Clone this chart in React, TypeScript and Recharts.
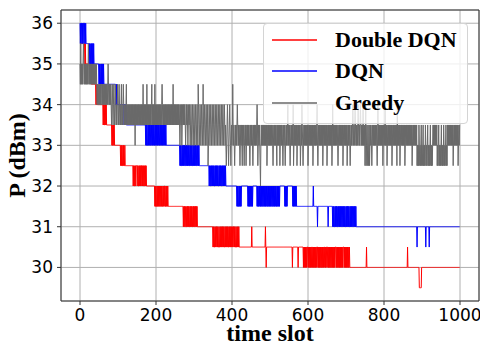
import React from 'react';
import { LineChart, Line, XAxis, YAxis, CartesianGrid, ReferenceArea } from 'recharts';

// power levels used by the three policies, one letter per level
const levelCodes = 'ABCDEFGHIJKLMN';
const levels = [29.5, 30, 30.5, 31, 31.5, 32, 32.5, 33, 33.5, 34, 34.5, 35, 35.5, 36];

const xTicks = [0, 200, 400, 600, 800, 1000];
const yTicks = [30, 31, 32, 33, 34, 35, 36];

const seriesKeys = ['ddqn', 'dqn', 'greedy'];
const seriesNames = ['Double DQN', 'DQN', 'Greedy'];
const seriesColors = ['#ff0000', '#0000ff', '#696969'];

// one slot per letter; "X12" means level X held for 12 slots
const doubleDqnRuns =
  'M13 LMLL L13 KLK K9 JKJKJ J14 IJIJIIJIJI I12 IHIHHIHIH H15 GHGHGGHGHGGHGG G19 ' +
  'FGFGFFGFG G3 FGFFGFGFGF G2 FGFGFFGFGFGF F21 ' +
  'EFEFE EFEFE FEFEE FEFEF EEFEF FEFEE FEFEF E40 ' +
  'DEDED DEDDE DEDED EDDED EDEDD EDEDE DDEDE DE D41 ' +
  'CDCDC CDCDD CDCDC CDCCD CDCDC DCDCD CCDCD CDCDC DCCDC DCDCD CDCDD CDCDC CDCCD CDCDC C ' +
  'C31 D C35 DCB C68 B C14 B C13 ' +
  'BCBCB CBCBC CCBCB BCBCB CBCCB CBCBC BCBCB CCCBC BCBCB CBBCB CBCBC CBCBC ' +
  'BCCCB CBCBC BCBBC BCBCB CBCBC CCBCB CBCBC BCBCB CBCBC CCBCB CBCBC BCBCB BCB ' +
  'B43 C B107 C B30 A6 B101';

const dqnRuns =
  'NMNMN NMNMN NMNNM N M8 LMLML LMLML MLMLL L11 KLKLK KLKLK LKLK K30 JKJK J18 IJIJIJI I50 ' +
  'HIHIH HIHIH IHIHH IHIHI HIHHI HIHIH IHIHI HHIHI HIHIH IHIHI HIHIH H35 ' +
  'GHGHG GHGHG HGHGG HGHGH GHGHG GHGHG HGHGG HGHGH GHGHG GHGHG HGG G24 ' +
  'FGFGF FGFGF GFGFF GFGFG FGFGF FGFGF GFGFF GFGFG FGFGF F F27 ' +
  'EFEFE EFEFE FEF F16 EFEFE FEFEF EFE F11 ' +
  'EFEFE EFEFE FEFEF EEFEF EFEFE FEEFE FEFEF EFEFE EFEFE FEFEF EEFEF EFEFE ' +
  'F13 EFEFEFEF F13 EFEFEFEFEFE E43 F E10 D E27 D E11 ' +
  'DEDED DEDED EDEDD EDEDE DEDED DEDED EDEDD EDEDE DEDED DEDED EDEDD EDEDE DED ' +
  'D159 C D22 C D8 C D80';

const greedyRuns = [
  'LKMKLKLKLM LKLKLKLKLK LKMLKLKLKL KLKLKLKLKL KLKLKJKJKJ',
  'KJKJKJKKJK JKJKJKJKJK JKJKLKJKJK JKJIJKJIJK JIJKJIJIJK',
  'JIJKJIJIJK IJIJKJIJIJ IJKIJIJIJI JIJIJIJIJI JIJIJHJIJI',
  'JIJIJIJIJI JIJIJIKIJI JIJIJIKIJI JIJIJIJIJK IJIJIJIKIJ',
  'IJIJIJIJIJ IJIJIJKJIJ IJIJIJIJIJ IJIJIJIJIJ IJIJIKIJIJ',
  'IJIJIJIJIJ IJIHIJIJHI JIJIJIJIHI JIJIHIJIJI HIJIHIJIHI',
  'JIHIJIHIJI HKJIHIJIHI JIHIKIHIJI HIJIHIJGHI JIHIJIHIJI',
  'HIJIHIJIHI JIHIJIHIJI HIJIHIJIHI JIHIHGHIJI HGHIJIHGHI',
  'HIKIHIHGHI HIHIJIHIHI HGHIHIHGIH IHGHIHIGHI HIHIHIHGHI',
  'HIHIHGHIHI HIHIHIJIGH IHIHGFHIHI HIHIHIHIHI HIGHIHIHIH',
  'IHIHIHIHGH IHIHIHIHGI HIHIHIGHIH IHIHGHIHIH GHIHIHIJHI',
  'HIHGHIHIHI HJGHIHIHIH IGHIHIHIHI GHIHJIHGHI HIHIHIHIHI',
  'GHIHIHIHIH IHIGHIHIHI HIHIJHGHIH IHIHIHIHIG HIHIHIHIHI',
  'GHIHIHIHIH IHIGHJHIHI HIHIHIHIHG HIHIHIHIHI HIGHIHIHIH',
  'IHIGHIHIHI HGHIHIHIJI HIHIJIHIHI HIJIHIHIJI HIHIHJHIHI',
  'GHJGHIGHIG HIGHIHIHGH IHIHIHIHIH IHGHJHIHIH IHIHIHIGHI',
  'HIHJHIHIGH IHIHIHIHIH IGHIHIHIHI HIHIGJHIHI HIGHIHIHIH',
  'IHIHIGHIHI HIHIHIHIHI HIHIGHIHIH IHIHIHIGHG HGIHGHGHIG',
  'HGHIGHGHGI HGHGHIGHGH GHIGHGHGHI HIHIHIHIHI GHGHIGHGHG',
  'HIGHGHGIHG HGHIGHGIHI HIHIHIHIHI HIGHIHIHIH IHIHIGHIHI',
].join(' ');

function decode(runs: string): number[] {
  const out: number[] = [];
  for (const tok of runs.trim().split(/\s+/)) {
    const m = tok.match(/^([A-N])(\d+)$/);
    if (m) {
      const v = levels[levelCodes.indexOf(m[1])];
      for (let i = 0; i < Number(m[2]); i++) out.push(v);
    } else {
      for (const ch of tok) out.push(levels[levelCodes.indexOf(ch)]);
    }
  }
  return out;
}

const ddqn = decode(doubleDqnRuns);
const dqn = decode(dqnRuns);
const greedy = decode(greedyRuns);

const data = greedy.map((g, t) => ({ t, ddqn: ddqn[t], dqn: dqn[t], greedy: g }));

const serif = '"Liberation Serif", "Times New Roman", serif';
const tickStyle = { fill: '#000', fontSize: 17, fontFamily: 'DejaVu Sans' };
const labelStyle = { fill: '#000', fontSize: 24, fontWeight: 'bold', fontFamily: serif };

function LegendBox() {
  return (
    <div
      style={{
        position: 'absolute',
        left: 263,
        top: 23,
        zIndex: 10,
        width: 205,
        height: 101,
        boxSizing: 'border-box',
        border: '1px solid #d4d4d4',
        borderRadius: 4,
        background: 'rgba(255,255,255,0.8)',
      }}
    >
      {seriesNames.map((name, i) => (
        <div key={name} style={{ display: 'flex', alignItems: 'center', height: 31.5 }}>
          <svg width={45} height={4} style={{ marginLeft: 8, display: 'block' }}>
            <line x1={0} x2={45} y1={2} y2={2} stroke={seriesColors[i]} strokeWidth={1.5} />
          </svg>
          <span
            style={{
              marginLeft: 18,
              fontFamily: serif,
              fontWeight: 'bold',
              fontSize: 22,
              lineHeight: 1,
              color: '#000',
            }}
          >
            {name}
          </span>
        </div>
      ))}
    </div>
  );
}

export default function App() {
  return (
    <div style={{ position: 'absolute', left: 0, top: 0, width: 480, height: 344, background: '#fff' }}>
      <LineChart width={480} height={344} data={data} margin={{ top: 10, right: 1, left: 0, bottom: 0 }}>
        <CartesianGrid stroke="#b0b0b0" strokeWidth={1} />
        <XAxis
          dataKey="t"
          type="number"
          domain={[-50, 1050]}
          allowDataOverflow
          ticks={xTicks}
          height={43}
          tickSize={4}
          tickMargin={4}
          tick={tickStyle}
          axisLine={false}
          tickLine={{ stroke: '#333' }}
          label={{ value: 'time slot', position: 'insideBottom', offset: 3, style: labelStyle }}
        />
        <YAxis
          type="number"
          domain={[29.175, 36.325]}
          allowDataOverflow
          ticks={yTicks}
          width={61}
          tickSize={4}
          tickMargin={4}
          tick={tickStyle}
          axisLine={false}
          tickLine={{ stroke: '#333' }}
          label={{ value: 'P (dBm)', angle: -90, position: 'insideLeft', offset: 16, style: { ...labelStyle, textAnchor: 'middle' } }}
        />
        {seriesKeys.map((k, i) => (
          <Line
            key={k}
            dataKey={k}
            name={seriesNames[i]}
            type="linear"
            stroke={seriesColors[i]}
            strokeWidth={1}
            dot={false}
            activeDot={false}
            isAnimationActive={false}
          />
        ))}
        <ReferenceArea
          x1={-50}
          x2={1050}
          y1={29.175}
          y2={36.325}
          fill="none"
          stroke="#333"
          strokeWidth={1}
          ifOverflow="visible"
        />
      </LineChart>
      <LegendBox />
    </div>
  );
}
